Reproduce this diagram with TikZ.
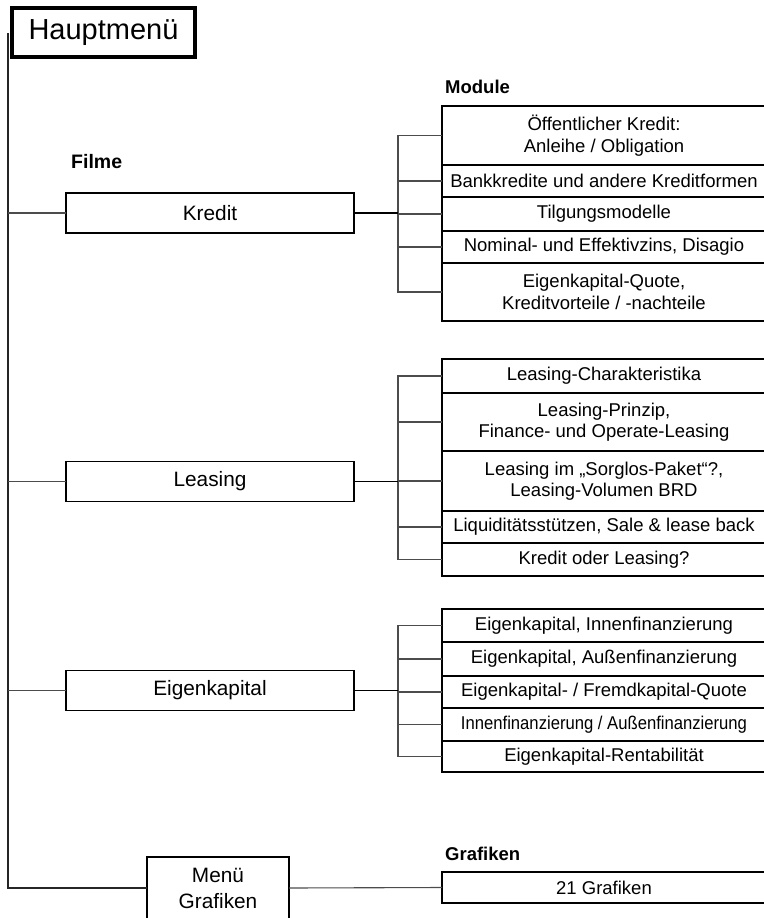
\documentclass[tikz,border=0pt]{standalone}
\usepackage{fontspec}
\setmainfont{Liberation Sans}
\usepackage{graphicx}
\usetikzlibrary{positioning}

\tikzset{
  menubox/.style={draw, line width=3.5pt, minimum width=183pt, minimum height=49pt,
    inner sep=0pt, font=\fontsize{29}{34}\selectfont},
  filmbox/.style={draw, line width=1.2pt, minimum width=288pt, minimum height=40pt,
    inner sep=0pt, outer sep=0pt, font=\fontsize{20.8}{26}\selectfont, align=center},
  modbox/.style={draw, line width=1.2pt, minimum width=324pt, inner sep=0pt, outer sep=0pt,
    align=center, anchor=north, font=\fontsize{18.5}{21.5}\selectfont},
  heading/.style={anchor=base west, inner sep=0pt, font=\fontsize{18.5}{22}\selectfont\bfseries},
  branch/.style={draw=black!70, line width=1.1pt},
  link/.style={line width=1.8pt},
  trunk/.style={line width=1.6pt, draw=black!85},
}

\begin{document}
\begin{tikzpicture}[x=1pt, y=-1pt]
  \useasboundingbox (0,0) rectangle (763,918);

  % Hauptmenue
  \node[menubox] (haupt) at (103.5,32.5) {Hauptmenü};
  \coordinate (t0) at (8,33);

  % Headings
  \node[heading, font=\fontsize{19.5}{22}\selectfont\bfseries] (filme) at (71,168) {Filme};
  \node[heading] (module) at (445,93) {Module};
  \node[heading] (grafiken) at (445,860) {Grafiken};

  % Filme
  \node[filmbox] (kredit) at (210,213) {Kredit};
  \node[filmbox] (leasing) at (210,481.5) {Leasing};
  \node[filmbox] (eigen) at (210,690.5) {Eigenkapital};
  \node[filmbox, minimum width=142pt, minimum height=62pt] (menu) at (218,888) {Menü\\Grafiken};

  % Module Kredit
  \node[modbox, minimum height=59pt] (k1) at (604,106) {Öffentlicher Kredit:\\Anleihe / Obligation};
  \node[modbox, minimum height=32pt, below=0pt of k1] (k2) {Bankkredite und andere Kreditformen};
  \node[modbox, minimum height=34pt, below=0pt of k2] (k3) {Tilgungsmodelle};
  \node[modbox, minimum height=32pt, below=0pt of k3] (k4) {Nominal- und Effektivzins, Disagio};
  \node[modbox, minimum height=58pt, below=0pt of k4] (k5) {Eigenkapital-Quote,\\Kreditvorteile / -nachteile};

  % Module Leasing
  \node[modbox, minimum height=34pt] (l1) at (604,359) {Leasing-Charakteristika};
  \node[modbox, minimum height=58pt, below=0pt of l1] (l2) {Leasing-Prinzip,\\Finance- und Operate-Leasing};
  \node[modbox, minimum height=60pt, below=0pt of l2] (l3) {Leasing im „Sorglos-Paket“?,\\Leasing-Volumen BRD};
  \node[modbox, minimum height=32pt, below=0pt of l3] (l4) {Liquiditätsstützen, Sale \& lease back};
  \node[modbox, minimum height=33pt, below=0pt of l4] (l5) {Kredit oder Leasing?};

  % Module Eigenkapital
  \node[modbox, minimum height=33pt] (e1) at (604,609) {Eigenkapital, Innenfinanzierung};
  \node[modbox, minimum height=34pt, below=0pt of e1] (e2) {Eigenkapital, Außenfinanzierung};
  \node[modbox, minimum height=32pt, below=0pt of e2] (e3) {Eigenkapital- / Fremdkapital-Quote};
  \node[modbox, minimum height=33pt, below=0pt of e3] (e4) {\scalebox{0.9}[1]{Innenfinanzierung / Außenfinanzierung}};
  \node[modbox, minimum height=31pt, below=0pt of e4] (e5) {Eigenkapital-Rentabilität};

  % thicker separators
  \draw[line width=2.2pt] (k1.south west) -- (k1.south east);
  \draw[line width=2.2pt] (l4.south west) -- (l4.south east);

  % Grafiken
  \node[modbox, minimum height=31pt] (g1) at (604,872) {21 Grafiken};

  % Stamm
  \draw[trunk] (t0) |- (menu.west);
  \foreach \f in {kredit, leasing, eigen}
    \draw[branch] (t0 |- \f.west) -- (\f.west);
  \draw[branch] (menu.east) -- (g1.west);

  % Verzweigungen
  \coordinate (kb) at (398,213);
  \coordinate (lb) at (398,481.5);
  \coordinate (eb) at (398,690.5);
  \foreach \g/\m in {kb/k, lb/l, eb/e} {
    \foreach \i in {1,...,5}
      \draw[branch] (\g) |- (\m\i.west);
  }
  \draw[link] (kredit.east) -- (kb);
  \draw[link] (leasing.east) -- (lb);
  \draw[link] (eigen.east) -- (eb);

\end{tikzpicture}
\end{document}
